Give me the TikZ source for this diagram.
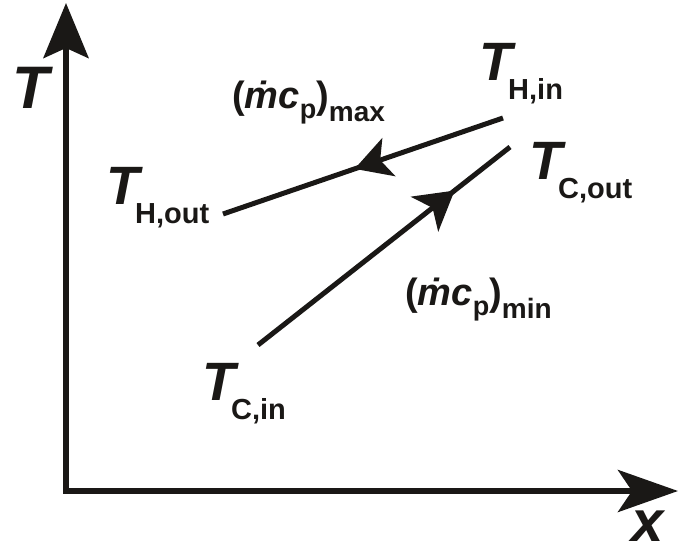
\documentclass[tikz,border=0pt]{standalone}
\usepackage{fontspec}
\setmainfont{Liberation Sans}
\usetikzlibrary{arrows.meta,decorations.markings}
\definecolor{ink}{RGB}{26,24,22}
\newcommand{\TLab}[1]{{\fontsize{54}{54}\selectfont\bfseries\itshape T}\kern-4pt\raisebox{-19pt}{\fontsize{29}{29}\selectfont\bfseries #1}}
\newcommand{\MCp}[1]{{\fontsize{38}{38}\selectfont\bfseries(\itshape\.{m}c}\raisebox{-10pt}{\fontsize{27}{27}\selectfont\bfseries p}{\fontsize{38}{38}\selectfont\bfseries)}\raisebox{-13pt}{\fontsize{28}{28}\selectfont\bfseries #1}}
\tikzset{
  lab/.style={anchor=base west, inner sep=0pt, text=ink},
  axis/.style={draw=ink, line width=6pt, line join=miter},
  flow/.style={draw=ink, line width=5pt, line cap=butt},
}
\begin{document}
\begin{tikzpicture}[x=1pt,y=-1pt]
\useasboundingbox (0,0) rectangle (678,554);
% axes
\coordinate (Ytop) at (66,3);
\coordinate (O) at (66,491);
\coordinate (Xend) at (678,491);
\draw[axis, {Stealth[length=55pt,width=45pt,inset=10pt]}-{Stealth[length=60pt,width=42pt,inset=14pt]}] (Ytop) -- (O) -- (Xend);
\node[lab] (Tax) at (12,108) {\fontsize{60}{60}\selectfont\bfseries\itshape T};
\node[lab] (xax) at (631,541) {\fontsize{58}{58}\selectfont\bfseries\itshape x};
% hot stream
\coordinate (Hin) at (503,118);
\coordinate (Hout) at (223,214);
\draw[flow, postaction={decorate}, decoration={markings, mark=at position 0.53 with {\arrow[ink]{Stealth[length=36pt,width=40pt,inset=9pt]}}}] (Hin) -- (Hout);
% cold stream
\coordinate (Cin) at (258,345);
\coordinate (Cout) at (510,147);
\draw[flow, postaction={decorate}, decoration={markings, mark=at position 0.78 with {\arrow[ink]{Stealth[length=38pt,width=44pt,inset=10pt]}}}] (Cin) -- (Cout);
% labels
\node[lab] (THin) at (479,80) {\TLab{H,in}};
\node[lab] (TCout) at (529,179) {\TLab{C,out}};
\node[lab] (THout) at (106,204) {\TLab{H,out}};
\node[lab] (TCin) at (202,400) {\TLab{C,in}};
\node[lab] (mcmax) at (232,108) {\MCp{max}};
\node[lab] (mcmin) at (405,305) {\MCp{min}};
\end{tikzpicture}
\end{document}
